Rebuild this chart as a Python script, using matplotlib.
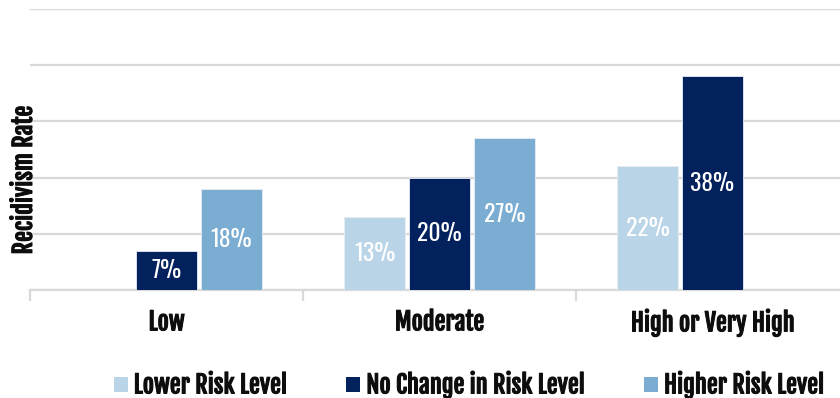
import matplotlib
matplotlib.use("Agg")
import matplotlib.pyplot as plt
import matplotlib.patheffects as pe
from matplotlib.patches import Patch
import numpy as np

categories = ["Low", "Moderate", "High or Very High"]
series_names = ["Lower Risk Level", "No Change in Risk Level", "Higher Risk Level"]
lower_risk = [None, 13, 22]
no_change = [7, 20, 38]
higher_risk = [18, 27, None]
colors = ["#BAD4E8", "#03215C", "#7BADD3"]

plt.rcParams['font.family'] = ['Fjalla One', 'DejaVu Sans']
LABEL_FONT = ['Oswald', 'DejaVu Sans']
TXT = "#0D0D0D"
bold_fx = [pe.withStroke(linewidth=0.7, foreground=TXT)]

fig = plt.figure(figsize=(8.4, 3.98), dpi=100)
ax = fig.add_axes([30/840, 108/398, 819/840, 281/398])

bar_w = 0.2234
step = 0.238
all_series = [lower_risk, no_change, higher_risk]
for si, (vals, col) in enumerate(zip(all_series, colors)):
    xs = [i + (si - 1) * step for i, v in enumerate(vals) if v is not None]
    hs = [v for v in vals if v is not None]
    bars = ax.bar(xs, hs, width=bar_w, color=col, edgecolor="#E8EEF5", linewidth=0.6, zorder=3)
    ax.bar_label(bars, labels=[f"{h}%" for h in hs], label_type='center',
                 color='white', fontsize=17, family=LABEL_FONT, zorder=4)

ax.set_xlim(-0.5, 2.5)
ax.set_ylim(0, 50)
ax.set_yticks(np.arange(0, 51, 10))
ax.yaxis.grid(True, color="#D9D9D9", linewidth=1.6, zorder=0)
ax.tick_params(axis='y', left=False, labelleft=False)
for s in ["top", "right", "left"]:
    ax.spines[s].set_visible(False)
ax.spines["bottom"].set_color("#D9D9D9")
ax.spines["bottom"].set_linewidth(1.6)

ax.set_xticks([-0.5, 0.5, 1.5, 2.5])
ax.set_xticklabels([])
ax.tick_params(axis='x', which='major', length=8, width=1.6, color="#D9D9D9")
ax.set_xticks([0, 1, 2], minor=True)
ax.set_xticklabels(categories, minor=True, fontsize=17.5, color=TXT)
ax.tick_params(axis='x', which='minor', length=0, pad=14)
for t in ax.get_xticklabels(minor=True):
    t.set_path_effects(bold_fx)

yl = ax.set_ylabel("Recidivism Rate", fontsize=17.5, color=TXT)
yl.set_path_effects(bold_fx)
ax.yaxis.set_label_coords(7/819, (290 - 180.5) / 281)

handles = [Patch(facecolor=c, edgecolor='none') for c in colors]
leg = fig.legend(handles, series_names, loc='center', bbox_to_anchor=(468.5/840, 1 - 385/398),
                 ncol=3, frameon=False, prop={'family': ['Fjalla One', 'DejaVu Sans'], 'size': 17.5},
                 handlelength=0.58, handleheight=0.58, handletextpad=0.25, columnspacing=2.45,
                 borderaxespad=0, borderpad=0)
for t in leg.get_texts():
    t.set_color(TXT)
    t.set_path_effects(bold_fx)

fig.savefig("out.png", dpi=100)
